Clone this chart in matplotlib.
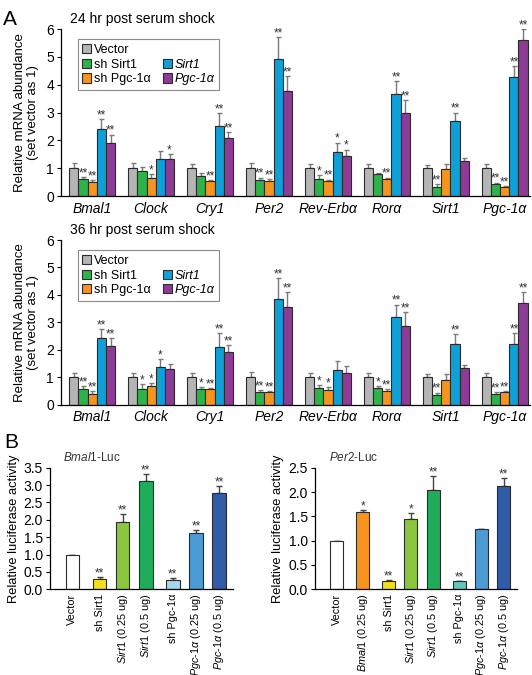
import numpy as np
import matplotlib
matplotlib.use("Agg")
import matplotlib.pyplot as plt
from matplotlib.patches import Patch

plt.rcParams.update({
    "font.family": ["Liberation Sans", "DejaVu Sans"],
    "mathtext.fontset": "custom",
    "mathtext.rm": "Liberation Sans",
    "mathtext.it": "Liberation Sans:italic",
    "axes.linewidth": 0.9,
    "axes.spines.top": False,
    "axes.spines.right": False,
})

# ── Data: panel A ────────────────────────────────────────────────────────────
genes = ["Bmal1", "Clock", "Cry1", "Per2", "Rev-Erbα", "Rorα", "Sirt1", "Pgc-1α"]
conditions = ["Vector", "sh Sirt1", "sh Pgc-1α", "Sirt1", "Pgc-1α"]
cond_colors = ["#b5b5b5", "#2db34a", "#f7941d", "#0fa0d8", "#8e3a97"]

vector_24 = [1.0, 1.0, 1.0, 1.0, 1.0, 1.0, 1.0, 1.0]
shsirt1_24 = [0.60, 0.91, 0.72, 0.56, 0.62, 0.78, 0.34, 0.42]
shpgc_24 = [0.50, 0.66, 0.53, 0.55, 0.53, 0.60, 0.98, 0.31]
sirt1_24 = [2.40, 1.34, 2.50, 4.92, 1.58, 3.65, 2.68, 4.26]
pgc_24 = [1.91, 1.33, 2.10, 3.77, 1.44, 2.97, 1.25, 5.62]

vector_24_err = [0.17, 0.17, 0.15, 0.20, 0.15, 0.15, 0.12, 0.15]
shsirt1_24_err = [0.08, 0.13, 0.12, 0.10, 0.12, 0.06, 0.10, 0.06]
shpgc_24_err = [0.08, 0.14, 0.04, 0.05, 0.06, 0.06, 0.18, 0.04]
sirt1_24_err = [0.36, 0.28, 0.47, 0.78, 0.34, 0.48, 0.32, 0.42]
pgc_24_err = [0.30, 0.17, 0.19, 0.55, 0.23, 0.48, 0.12, 0.37]

vector_24_sig = ["", "", "", "", "", "", "", ""]
shsirt1_24_sig = ["**", "", "", "**", "*", "", "**", "**"]
shpgc_24_sig = ["**", "*", "**", "**", "**", "**", "", "**"]
sirt1_24_sig = ["**", "", "**", "**", "*", "**", "**", "**"]
pgc_24_sig = ["**", "*", "**", "**", "*", "**", "", "**"]

vector_36 = [1.0, 1.0, 1.0, 1.0, 1.0, 1.0, 1.0, 1.0]
shsirt1_36 = [0.57, 0.58, 0.57, 0.45, 0.60, 0.60, 0.34, 0.41]
shpgc_36 = [0.41, 0.67, 0.58, 0.46, 0.55, 0.51, 0.90, 0.46]
sirt1_36 = [2.42, 1.38, 2.10, 3.84, 1.26, 3.18, 2.23, 2.20]
pgc_36 = [2.13, 1.31, 1.93, 3.55, 1.16, 2.88, 1.33, 3.72]

vector_36_err = [0.17, 0.17, 0.15, 0.20, 0.15, 0.15, 0.12, 0.15]
shsirt1_36_err = [0.11, 0.17, 0.07, 0.08, 0.12, 0.08, 0.10, 0.04]
shpgc_36_err = [0.08, 0.11, 0.04, 0.05, 0.10, 0.05, 0.22, 0.03]
sirt1_36_err = [0.33, 0.28, 0.50, 0.78, 0.34, 0.47, 0.34, 0.42]
pgc_36_err = [0.30, 0.16, 0.23, 0.56, 0.24, 0.50, 0.12, 0.38]

vector_36_sig = ["", "", "", "", "", "", "", ""]
shsirt1_36_sig = ["**", "*", "*", "**", "*", "*", "**", "**"]
shpgc_36_sig = ["**", "*", "**", "**", "*", "**", "", "**"]
sirt1_36_sig = ["**", "*", "**", "**", "", "**", "**", "**"]
pgc_36_sig = ["**", "", "**", "**", "", "**", "", "**"]

# ── Data: panel B ────────────────────────────────────────────────────────────
bmal_labels = ["Vector", "sh Sirt1",
               r"$\mathit{Sirt1}$ (0.25 ug)", r"$\mathit{Sirt1}$ (0.5 ug)",
               "sh Pgc-1α",
               r"$\mathit{Pgc}$-$\mathit{1\alpha}$ (0.25 ug)",
               r"$\mathit{Pgc}$-$\mathit{1\alpha}$ (0.5 ug)"]
bmal_vals = [1.0, 0.30, 1.95, 3.12, 0.28, 1.61, 2.77]
bmal_err = [0.0, 0.06, 0.23, 0.21, 0.05, 0.11, 0.21]
bmal_sig = ["", "**", "**", "**", "**", "**", "**"]
bmal_groups = [0, 1, 1, 1, 2, 2, 2]
bmal_colors = ["#ffffff", "#f3e01b", "#8cc63e", "#1fad5b", "#a3d8ee", "#4b9bd5", "#2f5ba9"]

per_labels = ["Vector", r"$\mathit{Bmal1}$ (0.25 ug)", "sh Sirt1",
              r"$\mathit{Sirt1}$ (0.25 ug)", r"$\mathit{Sirt1}$ (0.5 ug)",
              "sh Pgc-1α",
              r"$\mathit{Pgc}$-$\mathit{1\alpha}$ (0.25 ug)",
              r"$\mathit{Pgc}$-$\mathit{1\alpha}$ (0.5 ug)"]
per_vals = [1.0, 1.58, 0.18, 1.44, 2.05, 0.16, 1.23, 2.13]
per_err = [0.0, 0.05, 0.02, 0.12, 0.28, 0.02, 0.01, 0.16]
per_sig = ["", "*", "**", "*", "**", "**", "", "**"]
per_groups = [0, 1, 2, 2, 2, 3, 3, 3]
per_colors = ["#ffffff", "#f7941d", "#f3e01b", "#8cc63e", "#1fad5b", "#62c6b8", "#4b9bd5", "#2f5ba9"]

EDGE = "#2b2b2b"
ERR = "#7a7a7a"


def plot_panel_a(ax, means, errs, sigs, title):
    n = len(means)
    width = 0.156
    x = np.arange(len(genes))
    for i in range(n):
        xi = x + (i - (n - 1) / 2) * width
        m = np.array(means[i])
        e = np.array(errs[i])
        ax.bar(xi, m, width=width, color=cond_colors[i], edgecolor=EDGE,
               linewidth=0.8, zorder=2)
        ax.errorbar(xi, m, yerr=[np.zeros_like(e), e], fmt="none",
                    ecolor=ERR, elinewidth=1.0, capsize=1.8, capthick=1.0, zorder=1)
        for xx, top, s in zip(xi, m + e, sigs[i]):
            if s:
                ax.text(xx, top - 0.08, s, ha="center", va="bottom",
                        fontsize=8.5, color="#333333")
    ax.set_xlim(-0.53, len(genes) - 0.57)
    ax.set_ylim(0, 6)
    ax.set_yticks(range(7))
    ax.set_xticks(x)
    ax.set_xticklabels(genes, fontstyle="italic", fontsize=10)
    ax.tick_params(axis="x", length=0, pad=4)
    ax.tick_params(axis="y", direction="out", length=3, labelsize=10, pad=2)
    ax.set_ylabel("Relative mRNA abundance\n(set vector as 1)", fontsize=9.5,
                  linespacing=1.1, labelpad=5)
    ax.text(0.02, 1.02, title, transform=ax.transAxes, fontsize=10,
            ha="left", va="bottom")

    handles = [Patch(facecolor=cond_colors[0], edgecolor=EDGE, linewidth=0.8),
               Patch(facecolor=cond_colors[1], edgecolor=EDGE, linewidth=0.8),
               Patch(facecolor=cond_colors[2], edgecolor=EDGE, linewidth=0.8),
               Patch(facecolor="none", edgecolor="none"),
               Patch(facecolor=cond_colors[3], edgecolor=EDGE, linewidth=0.8),
               Patch(facecolor=cond_colors[4], edgecolor=EDGE, linewidth=0.8)]
    labels = [conditions[0], conditions[1], conditions[2], "", conditions[3], conditions[4]]
    leg = ax.legend(handles, labels, ncol=2, loc="upper left",
                    bbox_to_anchor=(0.022, 0.975), fontsize=9,
                    handlelength=0.75, handleheight=0.75, handletextpad=0.2,
                    labelspacing=0.22, columnspacing=1.0, borderpad=0.35,
                    fancybox=False, edgecolor="#8a8a8a", framealpha=1)
    leg.get_frame().set_linewidth(0.8)
    for t in leg.get_texts()[4:]:
        t.set_fontstyle("italic")


def plot_panel_b(ax, vals, errs, sigs, groups, colors, labels, ymax, title_tex):
    x = np.arange(len(vals)) + 0.17 * np.array(groups)
    v = np.array(vals)
    e = np.array(errs)
    ax.bar(x, v, width=0.58, color=colors, edgecolor=EDGE, linewidth=0.8, zorder=2)
    ax.errorbar(x, v, yerr=[np.zeros_like(e), e], fmt="none", ecolor="#444444",
                elinewidth=1.0, capsize=2.2, capthick=1.0, zorder=1)
    for xx, top, s in zip(x, v + e, sigs):
        if s:
            ax.text(xx, top - 0.02 * ymax, s, ha="center", va="bottom",
                    fontsize=8.5, color="#333333")
    ax.set_xlim(-0.97, x[-1] + 0.6)
    ax.set_ylim(0, ymax)
    ticks = np.arange(0, ymax + 0.01, 0.5)
    ax.set_yticks(ticks)
    ax.set_yticklabels([f"{t:.1f}" for t in ticks])
    ax.set_xticks(x)
    ax.set_xticklabels(labels, rotation=90, fontsize=7.8)
    ax.tick_params(axis="x", length=0, pad=3)
    ax.tick_params(axis="y", direction="out", length=3, labelsize=10, pad=2)
    ax.set_ylabel("Relative luciferase activity", fontsize=9.3, labelpad=3)
    ax.text(0.07, 1.03, title_tex, transform=ax.transAxes, fontsize=8.5,
            ha="left", va="bottom", color="#333333")


fig = plt.figure(figsize=(5.32, 6.75), dpi=100)

ax1 = fig.add_axes([0.1147, 0.7096, 0.8816, 0.2474])
plot_panel_a(ax1,
             [vector_24, shsirt1_24, shpgc_24, sirt1_24, pgc_24],
             [vector_24_err, shsirt1_24_err, shpgc_24_err, sirt1_24_err, pgc_24_err],
             [vector_24_sig, shsirt1_24_sig, shpgc_24_sig, sirt1_24_sig, pgc_24_sig],
             "24 hr post serum shock")

ax2 = fig.add_axes([0.1147, 0.4003, 0.8816, 0.2441])
plot_panel_a(ax2,
             [vector_36, shsirt1_36, shpgc_36, sirt1_36, pgc_36],
             [vector_36_err, shsirt1_36_err, shpgc_36_err, sirt1_36_err, pgc_36_err],
             [vector_36_sig, shsirt1_36_sig, shpgc_36_sig, sirt1_36_sig, pgc_36_sig],
             "36 hr post serum shock")

ax3 = fig.add_axes([0.094, 0.127, 0.344, 0.180])
plot_panel_b(ax3, bmal_vals, bmal_err, bmal_sig, bmal_groups, bmal_colors,
             bmal_labels, 3.5, r"$\mathit{Bmal}$1-Luc")

ax4 = fig.add_axes([0.592, 0.127, 0.380, 0.180])
plot_panel_b(ax4, per_vals, per_err, per_sig, per_groups, per_colors,
             per_labels, 2.5, r"$\mathit{Per}$2-Luc")

fig.text(0.006, 0.985, "A", fontsize=15, ha="left", va="top")
fig.text(0.008, 0.359, "B", fontsize=15, ha="left", va="top")

fig.savefig("out.png", dpi=100, facecolor="white")
